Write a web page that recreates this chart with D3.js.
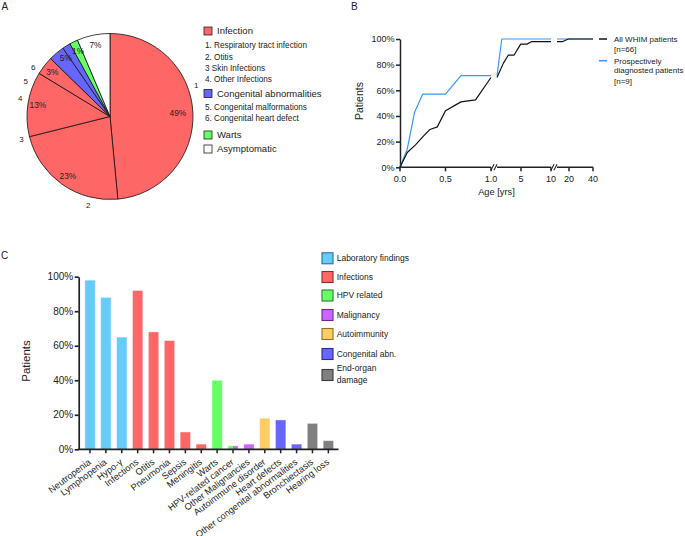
<!DOCTYPE html>
<html><head><meta charset="utf-8">
<script src="https://cdn.jsdelivr.net/npm/d3@7"></script>
<style>body{margin:0;background:#fff}svg{display:block}</style>
</head><body><svg id="c" width="685" height="536"></svg>
<script>
// ---------- DATA ----------
// Panel A (pie)
const pieCategories = ["Respiratory tract infection","Otitis","Skin Infections","Other Infections","Congenital malformations","Congenital heart defect","Warts","Asymptomatic"];
const pieValues = [48.5,22.6,12.6,3.6,3.1,1.6,1.6,6.4];
const pieGroups = ["Infection","Infection","Infection","Infection","Congenital abnormalities","Congenital abnormalities","Warts","Asymptomatic"];
const pieNumberLabels = ["1","2","3","4","5","6"];
const piePctTexts = ["49%","23%","13%","3%","5%","1%","7%"];
const piePctSlices = [[0],[1],[2],[3],[4,5],[6],[7]];
const legendARows = [
  {box:"Infection", text:"Infection"},
  {text:"1. Respiratory tract infection"},
  {text:"2. Otitis"},
  {text:"3 Skin Infections"},
  {text:"4. Other Infections"},
  {box:"Congenital abnormalities", text:"Congenital abnormalities"},
  {text:"5. Congenital malformations"},
  {text:"6. Congenital heart defect"},
  {box:"Warts", text:"Warts"},
  {box:"Asymptomatic", text:"Asymptomatic"}
];
// Panel B (cumulative lines)
const ageAll  = [0,0.08,0.17,0.26,0.33,0.41,0.5,0.67,0.83,1,2.05,2.9,3.85,4.95,6,6.8,10,14.8,19.5,40];
const pctAll  = [0,11.5,17.5,24.5,29.5,31.5,44,51,52.5,70,81,87.5,87.5,96,96,98,98,98,100,100];
const ageProsp = [0,0.08,0.16,0.25,0.5,0.67,1,1.8,10,40];
const pctProsp = [0,14.3,42.9,57.1,57.1,71.4,71.4,100,100,100];
const bXTicks = [0,0.5,1,5,10,20,40];
const bXTickLabels = ["0.0","0.5","1.0","5","10","20","40"];
const bYTicks = [0,20,40,60,80,100];
const bSeriesNames = ["All WHIM patients","Prospectively diagnosted patients"];
const bLegendLines = [["All WHIM patients","[n=66]"],["Prospectively","diagnosted patients","[n=9]"]];
// Panel C (bars)
const cCategories = ["Neutropenia","Lymphopenia","Hypo-γ","Infections","Otitis","Pneumonia","Sepsis","Meningitis","Warts","HPV-related cancer","Other Malignancies","Autoimmune disorder","Heart defects","Other congenital abnormalities","Bronchiectasis","Hearing loss"];
const cValues = [98,88,65,92,68,63,10,3,40,2,3,18,17,3,15,5];
const cGroups = ["Laboratory findings","Laboratory findings","Laboratory findings","Infections","Infections","Infections","Infections","Infections","HPV related","HPV related|Malignancy","Malignancy","Autoimmunity","Congenital abn.","Congenital abn.","End-organ damage","End-organ damage"];
const cLegend = ["Laboratory findings","Infections","HPV related","Malignancy","Autoimmunity","Congenital abn.","End-organ damage"];
const cLegendText = [["Laboratory findings"],["Infections"],["HPV related"],["Malignancy"],["Autoimmunity"],["Congenital abn."],["End-organ","damage"]];
const cYTicks = [0,20,40,60,80,100];

// ---------- STYLE ----------
const FONT = '"Liberation Sans", Arial, Helvetica, sans-serif';
const TXT = "#222";
const pieColors = {"Infection":"#ff6666","Congenital abnormalities":"#6666ff","Warts":"#66ff66","Asymptomatic":"#ffffff"};
const cColors = {"Laboratory findings":"#66ccff","Infections":"#ff6666","HPV related":"#66ff66","Malignancy":"#cc66ff","Autoimmunity":"#ffcc66","Congenital abn.":"#6666ff","End-organ damage":"#808080"};
const cBorders = {"Laboratory findings":"#2a6f8f","Infections":"#8f2a2a","HPV related":"#2a7f2a","Malignancy":"#6f2a8f","Autoimmunity":"#8f6f2a","Congenital abn.":"#2a2a8f","End-organ damage":"#3a3a3a"};

const svg = d3.select("#c").style("font-family", FONT);
svg.append("rect").attr("width",685).attr("height",536).attr("fill","#fff");

[["A",1.5,10],["B",351,9.5],["C",1,259]].forEach(([t,x,y])=>{
  svg.append("text").attr("x",x).attr("y",y).attr("font-size",10).attr("fill",TXT).text(t);
});

// ---------- PANEL A ----------
const cx = 110, cy = 116.5, R = 83;
const gA = svg.append("g").attr("transform",`translate(${cx},${cy})`);
const pie = d3.pie().sort(null).value(d=>d);
const arcs = pie(pieValues);
const arc = d3.arc().innerRadius(0).outerRadius(R);
gA.selectAll("path.sl").data(arcs).join("path").attr("class","sl")
  .attr("d",arc).attr("fill",(d,i)=>pieColors[pieGroups[i]])
  .attr("stroke","#111").attr("stroke-width",0.8).attr("stroke-linejoin","round");
const deg = Math.PI/180;
piePctTexts.forEach((t,k)=>{
  const sl = piePctSlices[k];
  const a0 = arcs[sl[0]].startAngle, a1 = arcs[sl[sl.length-1]].endAngle;
  const m = (a0+a1)/2, r = k===0 ? 68 : 73;
  gA.append("text").attr("x",r*Math.sin(m)).attr("y",-r*Math.cos(m)).attr("dy","0.35em")
    .attr("text-anchor","middle").attr("font-size",8.3).attr("fill",TXT).text(t);
});
const numShift = [-17,-21.5,-23,-26.5,-27,-25.5];
pieNumberLabels.forEach((t,i)=>{
  const m = (arcs[i].startAngle+arcs[i].endAngle)/2 + numShift[i]*deg, r = 91.5;
  gA.append("text").attr("x",r*Math.sin(m)).attr("y",-r*Math.cos(m)).attr("dy","0.35em")
    .attr("text-anchor","middle").attr("font-size",8).attr("fill",TXT).text(t);
});
const legARowY = [31,44.7,56.7,68,79.3,93.5,107,118,135,149];
legendARows.forEach((row,i)=>{
  const y = legARowY[i];
  if(row.box){
    svg.append("rect").attr("x",204).attr("y",y-4).attr("width",8).attr("height",8)
      .attr("fill",pieColors[row.box]).attr("stroke","#222").attr("stroke-width",0.8);
    svg.append("text").attr("x",217).attr("y",y).attr("dy","0.36em").attr("font-size",9.5).attr("fill",TXT).text(row.text);
  } else {
    svg.append("text").attr("x",205).attr("y",y).attr("dy","0.36em").attr("font-size",8.2).attr("fill",TXT).text(row.text);
  }
});

// ---------- PANEL B ----------
const yB = d3.scaleLinear().domain([0,100]).range([167.3,39]);
const segs = [{d:[0,1],r:[400,491]},{d:[1,10],r:[497,551]},{d:[10,40],r:[557,593]}]
  .map(s=>({...s, sc:d3.scaleLinear().domain(s.d).range(s.r)}));
const xB = a => { for(const s of segs){ if(a<=s.d[1]) return s.sc(a); } return segs[2].sc(a); };
const gB = svg.append("g");
const yAxB = gB.append("g").attr("transform","translate(400,0)")
  .call(d3.axisLeft(yB).tickValues(bYTicks).tickFormat(d=>d+"%").tickSize(4).tickSizeOuter(0));
yAxB.select(".domain").attr("stroke","#222").attr("stroke-width",1.5);
yAxB.selectAll(".tick line").attr("stroke","#222").attr("stroke-width",1.5);
yAxB.selectAll("text").attr("font-size",9).attr("fill",TXT).attr("font-family",FONT).attr("x",-5.5);
segs.forEach(s=>{
  gB.append("line").attr("x1",s.r[0]-(s===segs[0]?0.75:0)).attr("x2",s.r[1]).attr("y1",yB(0)).attr("y2",yB(0))
    .attr("stroke","#222").attr("stroke-width",1.5);
});
for(let i=0;i<segs.length-1;i++){
  [segs[i].r[1]+1.5, segs[i+1].r[0]-1.5].forEach(x=>{
    gB.append("line").attr("x1",x-1.6).attr("x2",x+1.6).attr("y1",yB(0)+3).attr("y2",yB(0)-3)
      .attr("stroke","#222").attr("stroke-width",1.1);
  });
}
bXTicks.forEach((v,i)=>{
  const x = xB(v);
  gB.append("line").attr("x1",x).attr("x2",x).attr("y1",yB(0)).attr("y2",yB(0)+4).attr("stroke","#222").attr("stroke-width",1.5);
  gB.append("text").attr("x",x).attr("y",181.5).attr("text-anchor","middle").attr("font-size",9).attr("fill",TXT).text(bXTickLabels[i]);
});
gB.append("text").attr("x",496.5).attr("y",195).attr("text-anchor","middle").attr("font-size",9.3).attr("fill",TXT).text("Age [yrs]");
gB.append("text").attr("transform","translate(363,101) rotate(-90)").attr("text-anchor","middle").attr("font-size",10.5).attr("fill",TXT).text("Patients");
const series = [
  {name:bSeriesNames[1], ages:ageProsp, pcts:pctProsp, color:"#3399ff"},
  {name:bSeriesNames[0], ages:ageAll, pcts:pctAll, color:"#111"}
];
series.forEach(se=>{
  const pts = se.ages.map((a,i)=>[a,se.pcts[i]]);
  segs.forEach(s=>{
    const sp = pts.filter(p=>p[0]>=s.d[0] && p[0]<=s.d[1]);
    const line = d3.line().x(p=>s.sc(p[0])).y(p=>yB(p[1]));
    gB.append("path").attr("d",line(sp)).attr("fill","none").attr("stroke",se.color)
      .attr("stroke-width",1.2).attr("stroke-linejoin","round");
  });
});
const legBY = [[39,49.5],[60.7,70.5,81]];
const legBCol = ["#111","#3399ff"];
bLegendLines.forEach((lines,k)=>{
  gB.append("line").attr("x1",599).attr("x2",607).attr("y1",legBY[k][0]).attr("y2",legBY[k][0])
    .attr("stroke",legBCol[k]).attr("stroke-width",1.5);
  lines.forEach((t,j)=>{
    gB.append("text").attr("x",614).attr("y",legBY[k][j]).attr("dy","0.35em").attr("font-size",8).attr("fill",TXT).text(t);
  });
});

// ---------- PANEL C ----------
const yC = d3.scaleLinear().domain([0,100]).range([449.3,276.7]);
const xC = d3.scaleBand().domain(cCategories).range([82.05,336.3]).paddingInner(0.35).paddingOuter(0.175);
const gC = svg.append("g");
const defs = svg.append("defs");
const grad = defs.append("linearGradient").attr("id","hpvSplit").attr("x1","0").attr("x2","1").attr("y1","0").attr("y2","0");
grad.append("stop").attr("offset","0.5").attr("stop-color",cColors["HPV related"]);
grad.append("stop").attr("offset","0.5").attr("stop-color",cColors["Malignancy"]);
gC.selectAll("rect.bar").data(cCategories).join("rect").attr("class","bar")
  .attr("x",d=>xC(d)).attr("width",xC.bandwidth())
  .attr("y",(d,i)=>yC(cValues[i])).attr("height",(d,i)=>yC(0)-yC(cValues[i]))
  .attr("fill",(d,i)=>cGroups[i].includes("|") ? "url(#hpvSplit)" : cColors[cGroups[i]])
  .attr("stroke","#fff").attr("stroke-opacity",0.45).attr("stroke-width",0.8);
const yAxC = gC.append("g").attr("transform","translate(78.7,0)")
  .call(d3.axisLeft(yC).tickValues(cYTicks).tickFormat(d=>d+"%").tickSize(4).tickSizeOuter(0));
yAxC.select(".domain").attr("stroke","#222").attr("stroke-width",1.7);
yAxC.selectAll(".tick line").attr("stroke","#222").attr("stroke-width",1.7);
yAxC.selectAll("text").attr("font-size",10).attr("fill",TXT).attr("font-family",FONT).attr("x",-5.5);
gC.append("line").attr("x1",77.9).attr("x2",338.5).attr("y1",yC(0)).attr("y2",yC(0)).attr("stroke","#222").attr("stroke-width",1.7);
cCategories.forEach(c=>{
  const x = xC(c)+xC.bandwidth()/2;
  gC.append("line").attr("x1",x).attr("x2",x).attr("y1",yC(0)).attr("y2",yC(0)+4).attr("stroke","#222").attr("stroke-width",1.5);
  gC.append("text").attr("transform",`translate(${x+1.5},${yC(0)+14}) rotate(-37)`)
    .attr("text-anchor","end").attr("font-size",9.2).attr("fill",TXT).text(c);
});
gC.append("text").attr("transform","translate(29.5,361) rotate(-90)").attr("text-anchor","middle").attr("font-size",11.5).attr("fill",TXT).text("Patients");
const legCY = [258.3,277,295.5,315,334,354,375];
cLegend.forEach((g,k)=>{
  const y = legCY[k];
  gC.append("rect").attr("x",322).attr("y",y-5.5).attr("width",11).attr("height",11)
    .attr("fill",cColors[g]).attr("stroke",cBorders[g]).attr("stroke-width",1.1);
  const lines = cLegendText[k];
  lines.forEach((t,j)=>{
    const yy = lines.length===1 ? y : y - 6.5 + j*11.3;
    gC.append("text").attr("x",336.7).attr("y",yy).attr("dy","0.35em").attr("font-size",8.5).attr("fill",TXT).text(t);
  });
});
</script></body></html>
